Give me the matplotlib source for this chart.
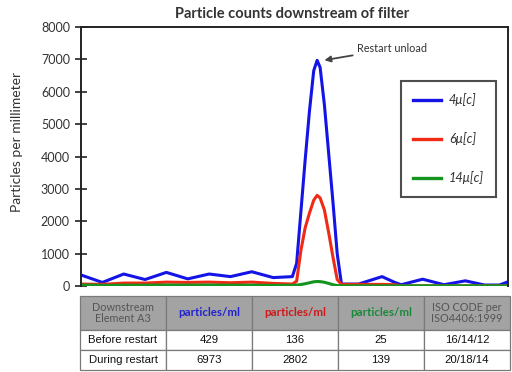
import matplotlib
matplotlib.use("Agg")
import matplotlib.pyplot as plt
from matplotlib.lines import Line2D

# ---- data -------------------------------------------------------------
time = [0, 5, 10, 15, 20, 25, 30, 35, 40, 45, 49.5, 50.5, 51.5, 52.5, 53.5,
        54.5, 55.3, 56, 57, 58, 59, 60, 61, 65, 70.5, 73.5, 75, 80, 85, 90,
        94.5, 98, 100]
blue_4um = [340, 110, 370, 200, 420, 220, 370, 290, 440, 260, 290, 700, 2300,
            3900, 5400, 6650, 6970, 6750, 5600, 4100, 2600, 1000, 60, 60, 290,
            110, 40, 210, 40, 160, 30, 30, 130]
red_6um = [60, 50, 90, 90, 120, 110, 120, 100, 120, 80, 60, 150, 1100, 1800,
           2250, 2650, 2800, 2720, 2350, 1650, 900, 200, 50, 50, 50, 40, 5, 5,
           5, 5, 5, 5, 5]
green_14um = [30, 20, 25, 25, 30, 25, 30, 25, 25, 20, 20, 30, 45, 70, 100,
              130, 139, 135, 115, 80, 40, 15, 5, 5, 5, 5, 5, 5, 5, 5, 5, 5, 5]
series_labels = ["4μ[c]", "6μ[c]", "14μ[c]"]
series_colors = ["#1414e6", "#f02a14", "#15941f"]

yticks = [0, 1000, 2000, 3000, 4000, 5000, 6000, 7000, 8000]

table_header = ["Downstream\nElement A3", "particles/ml", "particles/ml",
                "particles/ml", "ISO CODE per\nISO4406:1999"]
table_rows = [["Before restart", "429", "136", "25", "16/14/12"],
              ["During restart", "6973", "2802", "139", "20/18/14"]]
header_colors = ["#555555", "#2323d0", "#d01818", "#1a8a3a", "#555555"]

title = "Particle counts downstream of filter"
ylabel = "Particles per millimeter"
annot_text = "Restart unload"
peak_time, peak_val = 57.0, 6975

# ---- figure -----------------------------------------------------------
plt.rcParams['font.family'] = ['Lato', 'DejaVu Sans']
W, H = 512, 372
fig = plt.figure(figsize=(W / 100, H / 100), dpi=100)
fig.patch.set_facecolor("white")

ax = fig.add_axes([81 / W, 1 - 286 / H, (508 - 81) / W, (286 - 27) / H])
for vals, col, lab in zip([blue_4um, red_6um, green_14um], series_colors,
                          series_labels):
    ax.plot(time, vals, color=col, lw=2.2, solid_joinstyle='round',
            solid_capstyle='round', label=lab)

ax.set_xlim(0, 100)
ax.set_ylim(0, 8000)
ax.set_xticks([])
ax.set_yticks(yticks)
ax.set_yticklabels([str(v) for v in yticks])
ax.tick_params(axis='y', direction='inout', length=8, width=1.2,
               colors="#222222", labelcolor="#333333", labelsize=9, pad=4)
for side, sp in ax.spines.items():
    sp.set_color("#222222")
    sp.set_linewidth(1.4)
ax.spines['bottom'].set_visible(False)

fig.text(292 / W, 1 - 14 / H, title, ha='center', va='center',
         fontsize=10.5, fontweight='bold', color="#333333")
fig.text(17 / W, 1 - 142 / H, ylabel, rotation=90, ha='center',
         va='center', fontsize=10, color="#333333")

ax.annotate(annot_text, xy=(peak_time, peak_val), xytext=(64.6, 7330),
            ha='left', va='center', fontsize=7.8, color="#333333",
            arrowprops=dict(arrowstyle='-|>', color="#444444", lw=1.3,
                            shrinkA=1, shrinkB=0, mutation_scale=9))

handles = [Line2D([], [], color=c, lw=2.4) for c in series_colors]
leg = fig.legend(handles, series_labels, loc='upper left',
                 bbox_to_anchor=(401 / W, 1 - 81 / H), frameon=True,
                 fancybox=False, handlelength=2.2,
                 handletextpad=0.6, labelspacing=2.05, borderpad=0.95,
                 borderaxespad=0, prop=dict(style='italic', size=9.2))
leg.get_frame().set_edgecolor("#222222")
leg.get_frame().set_linewidth(1.5)
for t in leg.get_texts():
    t.set_color("#333333")

# ---- table ------------------------------------------------------------
tax = fig.add_axes([80 / W, 1 - 370 / H, (510 - 80) / W, (370 - 296) / H])
tax.axis('off')
tbl = tax.table(cellText=table_rows, colLabels=table_header,
                cellLoc='center', bbox=[0, 0, 1, 1])
tbl.auto_set_font_size(False)
hdr_h, row_h = 34 / 74, 20 / 74
for (r, c), cell in tbl.get_celld().items():
    cell.set_edgecolor("#7a7a7a")
    cell.set_linewidth(0.9)
    if r == 0:
        cell.set_height(hdr_h)
        cell.set_facecolor("#a3a3a3")
        txt = cell.get_text()
        txt.set_color(header_colors[c])
        if c in (1, 2, 3):
            txt.set_fontsize(8.3)
            txt.set_fontweight('bold')
        else:
            txt.set_fontsize(7.8)
        txt.set_linespacing(1.05)
    else:
        cell.set_height(row_h)
        cell.set_facecolor("white")
        txt = cell.get_text()
        txt.set_fontsize(8.2)
        txt.set_color("#111111")
        txt.set_fontfamily(['Liberation Sans', 'DejaVu Sans'])

fig.savefig("out.png", dpi=100, facecolor="white")
